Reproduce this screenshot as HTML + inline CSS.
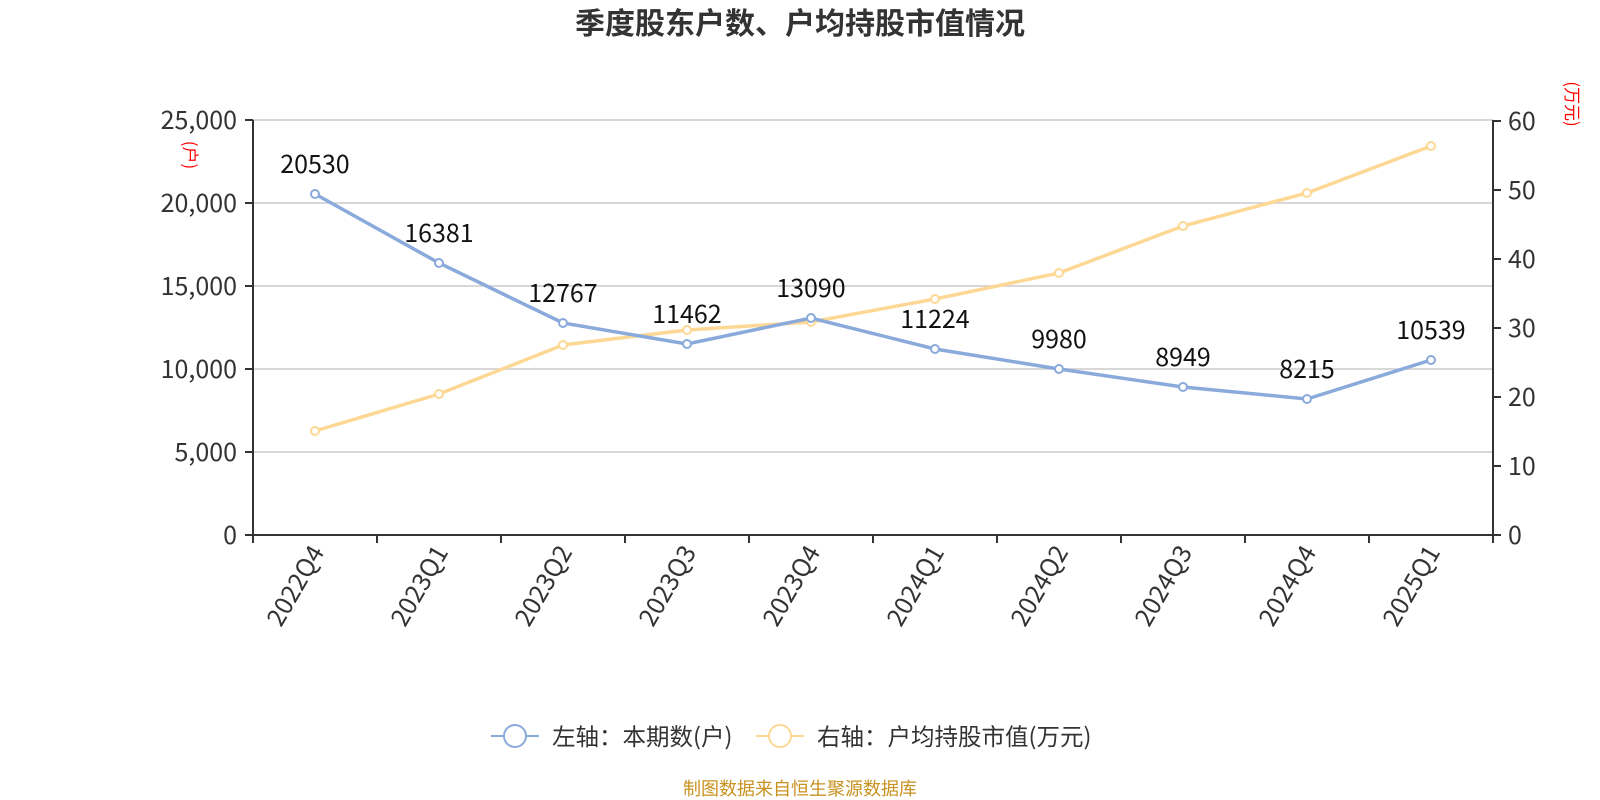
<!DOCTYPE html>
<html><head><meta charset="utf-8"><style>
body{margin:0;background:#fff;}
svg{display:block;font-family:"Noto Sans CJK SC","Liberation Sans",sans-serif;}
</style></head><body>
<svg width="1600" height="800" viewBox="0 0 1600 800">
<text x="800" y="34" text-anchor="middle" font-size="30" font-weight="bold" fill="#333">季度股东户数、户均持股市值情况</text>
<g stroke="#ccc" stroke-width="1.5">
<line x1="253" y1="120" x2="1493" y2="120"/>
<line x1="253" y1="203" x2="1493" y2="203"/>
<line x1="253" y1="286" x2="1493" y2="286"/>
<line x1="253" y1="369" x2="1493" y2="369"/>
<line x1="253" y1="452" x2="1493" y2="452"/>
</g>
<g stroke="#333" stroke-width="2">
<line x1="253" y1="120" x2="253" y2="535"/>
<line x1="1493" y1="120" x2="1493" y2="535"/>
<line x1="253" y1="535" x2="1493" y2="535"/>
<line x1="245" y1="120" x2="253" y2="120"/><line x1="245" y1="203" x2="253" y2="203"/><line x1="245" y1="286" x2="253" y2="286"/><line x1="245" y1="369" x2="253" y2="369"/><line x1="245" y1="452" x2="253" y2="452"/><line x1="245" y1="535" x2="253" y2="535"/>
<line x1="1493" y1="121" x2="1501" y2="121"/><line x1="1493" y1="190" x2="1501" y2="190"/><line x1="1493" y1="259" x2="1501" y2="259"/><line x1="1493" y1="328" x2="1501" y2="328"/><line x1="1493" y1="397" x2="1501" y2="397"/><line x1="1493" y1="466" x2="1501" y2="466"/><line x1="1493" y1="535" x2="1501" y2="535"/>
<line x1="253" y1="535" x2="253" y2="543"/><line x1="377" y1="535" x2="377" y2="543"/><line x1="501" y1="535" x2="501" y2="543"/><line x1="625" y1="535" x2="625" y2="543"/><line x1="749" y1="535" x2="749" y2="543"/><line x1="873" y1="535" x2="873" y2="543"/><line x1="997" y1="535" x2="997" y2="543"/><line x1="1121" y1="535" x2="1121" y2="543"/><line x1="1245" y1="535" x2="1245" y2="543"/><line x1="1369" y1="535" x2="1369" y2="543"/><line x1="1493" y1="535" x2="1493" y2="543"/>
</g>
<g font-size="25" fill="#333" text-anchor="end">
<text x="237" y="129">25,000</text><text x="237" y="212">20,000</text><text x="237" y="295">15,000</text><text x="237" y="378">10,000</text><text x="237" y="461">5,000</text><text x="237" y="544">0</text>
</g>
<g font-size="25" fill="#333">
<text x="1508" y="130">60</text><text x="1508" y="199">50</text><text x="1508" y="268">40</text><text x="1508" y="337">30</text><text x="1508" y="406">20</text><text x="1508" y="475">10</text><text x="1508" y="544">0</text>
</g>
<text transform="translate(184,155) rotate(90)" font-size="17" fill="red" text-anchor="middle">(户)</text>
<text transform="translate(1566,104) rotate(90)" font-size="17" fill="red" text-anchor="middle">(万元)</text>
<g font-size="25" fill="#333" text-anchor="end">
<text transform="translate(325,552) rotate(-60)">2022Q4</text>
<text transform="translate(449,552) rotate(-60)">2023Q1</text>
<text transform="translate(573,552) rotate(-60)">2023Q2</text>
<text transform="translate(697,552) rotate(-60)">2023Q3</text>
<text transform="translate(821,552) rotate(-60)">2023Q4</text>
<text transform="translate(945,552) rotate(-60)">2024Q1</text>
<text transform="translate(1069,552) rotate(-60)">2024Q2</text>
<text transform="translate(1193,552) rotate(-60)">2024Q3</text>
<text transform="translate(1317,552) rotate(-60)">2024Q4</text>
<text transform="translate(1441,552) rotate(-60)">2025Q1</text>
</g>
<polyline fill="none" stroke="#fdd895" stroke-width="3.5" points="315,431 439,394 563,345 687,330 811,322 935,299 1059,273 1183,226 1307,193 1431,146"/>
<polyline fill="none" stroke="#8aaadb" stroke-width="3.5" points="315,194 439,263 563,323 687,344 811,318 935,349 1059,369 1183,387 1307,399 1431,360"/>
<g fill="#fff" stroke="#fdd895" stroke-width="2">
<circle cx="315" cy="431" r="4"/><circle cx="439" cy="394" r="4"/><circle cx="563" cy="345" r="4"/><circle cx="687" cy="330" r="4"/><circle cx="811" cy="322" r="4"/><circle cx="935" cy="299" r="4"/><circle cx="1059" cy="273" r="4"/><circle cx="1183" cy="226" r="4"/><circle cx="1307" cy="193" r="4"/><circle cx="1431" cy="146" r="4"/>
</g>
<g fill="#fff" stroke="#8aaadb" stroke-width="2">
<circle cx="315" cy="194" r="4"/><circle cx="439" cy="263" r="4"/><circle cx="563" cy="323" r="4"/><circle cx="687" cy="344" r="4"/><circle cx="811" cy="318" r="4"/><circle cx="935" cy="349" r="4"/><circle cx="1059" cy="369" r="4"/><circle cx="1183" cy="387" r="4"/><circle cx="1307" cy="399" r="4"/><circle cx="1431" cy="360" r="4"/>
</g>
<g font-size="25" fill="#111" text-anchor="middle">
<text x="315" y="173">20530</text><text x="439" y="242">16381</text><text x="563" y="302">12767</text><text x="687" y="323">11462</text><text x="811" y="297">13090</text><text x="935" y="328">11224</text><text x="1059" y="348">9980</text><text x="1183" y="366">8949</text><text x="1307" y="378">8215</text><text x="1431" y="339">10539</text>
</g>
<g>
<line x1="491" y1="736" x2="539" y2="736" stroke="#8aaadb" stroke-width="2"/>
<circle cx="515" cy="736" r="11" fill="#fff" stroke="#8aaadb" stroke-width="2"/>
<text x="552" y="745" font-size="23.5" fill="#333">左轴：本期数(户)</text>
<line x1="756" y1="736" x2="804" y2="736" stroke="#fdd895" stroke-width="2"/>
<circle cx="780" cy="736" r="11" fill="#fff" stroke="#fdd895" stroke-width="2"/>
<text x="817" y="745" font-size="23.5" fill="#333">右轴：户均持股市值(万元)</text>
</g>
<text x="800" y="795" text-anchor="middle" font-size="18" fill="#c8921e">制图数据来自恒生聚源数据库</text>
</svg>
</body></html>
